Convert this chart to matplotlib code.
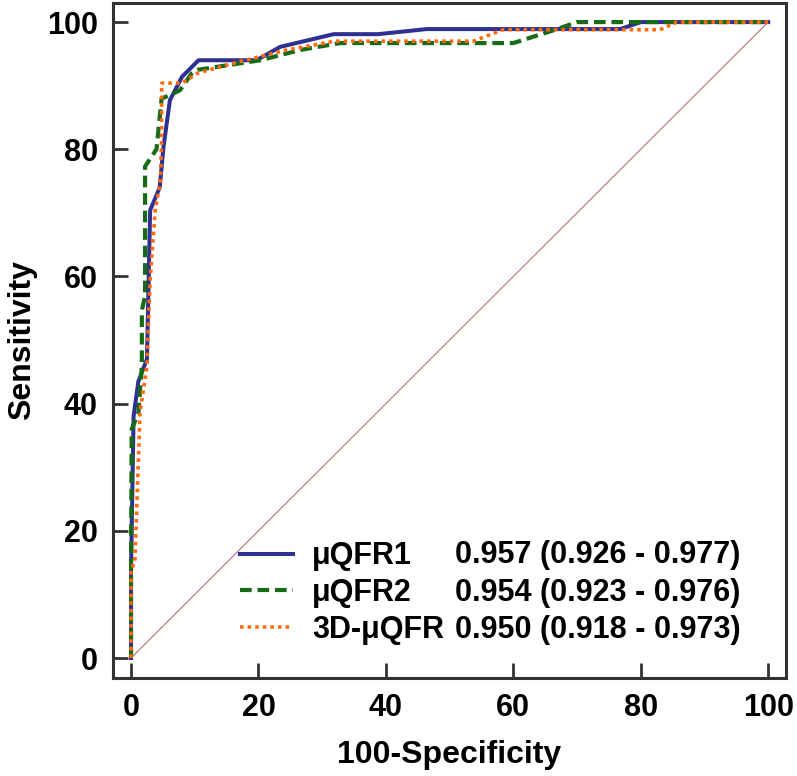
import matplotlib
matplotlib.use("Agg")
import matplotlib.pyplot as plt

plt.rcParams['font.family'] = ['Liberation Sans', 'DejaVu Sans']
plt.rcParams['font.weight'] = 'bold'

# ---- data ----
fpr_qfr1 = [0, 0, 0.4, 1.15, 2.5, 3.0, 4.5, 5.1, 6.1, 8.0, 10.6, 19.7, 23.4, 31.8, 38.8, 46.4, 76.8, 80.0, 100]
sen_qfr1 = [0, 14, 38, 43.5, 47, 70.4, 74, 80.4, 87.7, 91.4, 94.0, 94.0, 96.1, 98.1, 98.1, 98.9, 98.9, 100, 100]

fpr_qfr2 = [0, 0, 0.1, 1.15, 1.7, 1.7, 2.2, 2.2, 4.0, 4.8, 6.1, 7.7, 9.5, 10.5, 20.3, 26.5, 32.8, 60.0, 66.3, 70.0, 100]
sen_qfr2 = [0, 15, 36, 38.5, 46, 54.6, 57, 77.3, 80, 88, 88.5, 89.3, 91.9, 92.5, 94.0, 95.6, 96.7, 96.7, 98.7, 100, 100]

fpr_3d = [0, 0, 0.6, 1.15, 1.4, 2.5, 3.0, 3.8, 4.6, 4.8, 4.8, 8.0, 10.5, 17.1, 24.4, 32.0, 53.7, 58.4, 83.0, 85.7, 100]
sen_3d = [0, 14, 15, 31, 38.5, 46, 59.5, 70.4, 75, 81.4, 90.4, 90.4, 92.0, 93.8, 95.6, 97.0, 97.0, 98.8, 98.8, 100, 100]

names = ['μQFR1', 'μQFR2', '3D-μQFR']
auc_texts = ['0.957 (0.926 - 0.977)', '0.954 (0.923 - 0.976)', '0.950 (0.918 - 0.973)']
ticks = [0, 20, 40, 60, 80, 100]
ref_line = [0, 100]

# ---- figure ----
W, H = 797, 776
fig = plt.figure(figsize=(W / 100, H / 100), dpi=100)
ax = fig.add_axes([113 / W, 1 - 678 / H, (786 - 113) / W, (678 - 3) / H])

ax.plot(ref_line, ref_line, color='#c0706a', lw=0.8, zorder=1)
l1, = ax.plot(fpr_qfr1, sen_qfr1, color='#2e3192', lw=2.9, solid_joinstyle='round', zorder=3)
l2, = ax.plot(fpr_qfr2, sen_qfr2, color='#176b17', lw=3.0, linestyle=(0, (2.8, 1.4)), zorder=4)
l3, = ax.plot(fpr_3d, sen_3d, color='#ff6a10', lw=2.6, linestyle=(0, (1, 1.1)), zorder=5)

ax.set_xlim(-2.83, 102.8)
ax.set_ylim(-3.14, 103.0)
ax.set_xticks(ticks)
ax.set_yticks(ticks)
ax.set_xticklabels([str(t) for t in ticks], fontsize=22, fontweight='bold')
ax.set_yticklabels([str(t) for t in ticks], fontsize=22, fontweight='bold')
ax.tick_params(axis='both', direction='in', length=11, width=2.0, color='#333333')
ax.tick_params(axis='x', pad=11)
ax.tick_params(axis='y', pad=11)
for s in ax.spines.values():
    s.set_linewidth(2.2)
    s.set_color('#333333')

ax.set_xlabel('100-Specificity', fontsize=23, fontweight='bold', labelpad=12)
ax.set_ylabel('Sensitivity', fontsize=23, fontweight='bold', labelpad=7)

leg = ax.legend([l1, l2, l3], names, loc='center left',
                bbox_to_anchor=((240 - 113) / 673, (678 - 593) / 675),
                frameon=False, handlelength=1.75, handletextpad=0.6,
                labelspacing=0.22, borderpad=0, borderaxespad=0,
                prop={'weight': 'bold', 'size': 22})

row_y = [(678 - 555) / 675, (678 - 593) / 675, (678 - 630) / 675]
for t, yy in zip(auc_texts, row_y):
    ax.text((455 - 113) / 673, yy, t, transform=ax.transAxes, fontsize=22,
            fontweight='bold', va='center', ha='left')

fig.savefig('out.png', dpi=100)
